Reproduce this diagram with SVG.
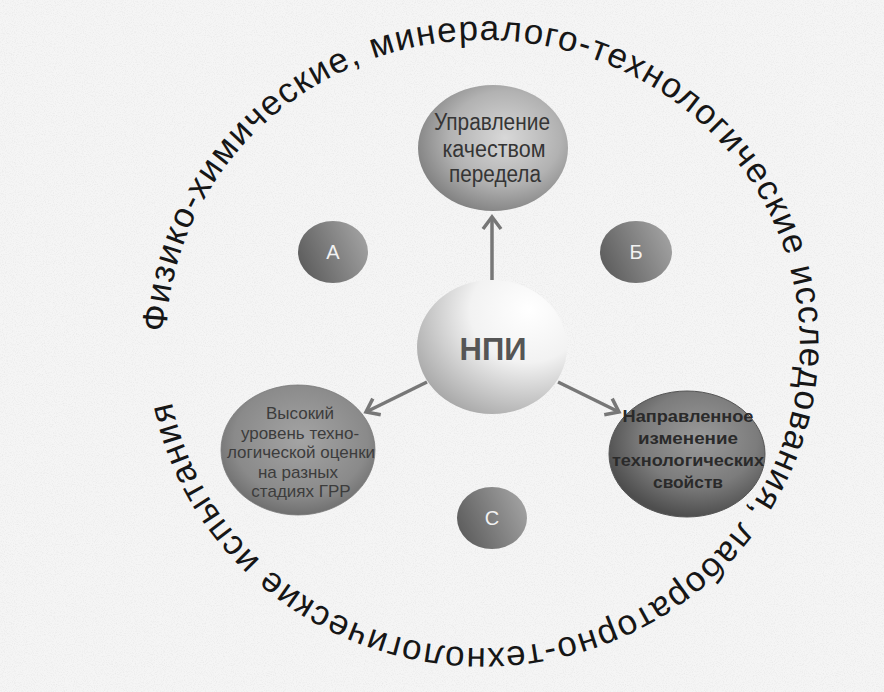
<svg xmlns="http://www.w3.org/2000/svg" xmlns:xlink="http://www.w3.org/1999/xlink" width="884" height="692" viewBox="0 0 884 692">
<style>
.ring{font-family:"Liberation Sans",Arial,sans-serif;font-size:35px;fill:#161616}
.t{font-family:"Liberation Sans",Arial,sans-serif;text-anchor:middle}
.top{font-size:23px;fill:#353535}
.lft{font-size:17px;fill:#3c3c3c}
.rgt{font-size:17px;font-weight:bold;fill:#2a2a2a}
.npi{font-size:31px;font-weight:bold;fill:#555}
.sm{font-size:20px;fill:#f2f2f2}
.arr{stroke:#777;stroke-width:3.5;fill:none}
</style>
<defs>
<filter id="noise" x="0" y="0" width="100%" height="100%">
<feTurbulence type="fractalNoise" baseFrequency="0.9" numOctaves="2" seed="3" result="n"/>
<feColorMatrix in="n" type="matrix" values="0 0 0 0 0.55  0 0 0 0 0.55  0 0 0 0 0.55  0 0 0 -1.6 0.9"/>
</filter>
<radialGradient id="gTop" cx="58%" cy="42%" r="62%">
<stop offset="0" stop-color="#d8d8d8"/><stop offset="0.6" stop-color="#b2b2b2"/><stop offset="1" stop-color="#808080"/>
</radialGradient>
<radialGradient id="gC" cx="72%" cy="25%" r="85%" fx="75%" fy="22%">
<stop offset="0" stop-color="#ffffff"/><stop offset="0.45" stop-color="#f2f2f2"/><stop offset="1" stop-color="#a6a6a6"/>
</radialGradient>
<radialGradient id="gL" cx="52%" cy="42%" r="62%">
<stop offset="0" stop-color="#a4a4a4"/><stop offset="0.7" stop-color="#8a8a8a"/><stop offset="1" stop-color="#686868"/>
</radialGradient>
<radialGradient id="gR" cx="58%" cy="38%" r="62%">
<stop offset="0" stop-color="#9a9a9a"/><stop offset="0.6" stop-color="#7c7c7c"/><stop offset="1" stop-color="#4e4e4e"/>
</radialGradient>
<linearGradient id="gS" x1="0" y1="0.7" x2="1" y2="0.3">
<stop offset="0" stop-color="#5c5c5c"/><stop offset="1" stop-color="#a2a2a2"/>
</linearGradient>
<marker id="chev" markerUnits="userSpaceOnUse" markerWidth="30" markerHeight="30" refX="15" refY="15" orient="auto" viewBox="0 0 30 30">
<path d="M3,6 L15,15 L3,24" fill="none" stroke="#777" stroke-width="3.5" stroke-linejoin="miter"/>
</marker>
<path id="ringPath" d="M166,344 A317,304 0 1,1 800,344 A317,304 0 1,1 166,344"/>
</defs>
<rect width="884" height="692" fill="#f5f5f5"/>
<rect width="884" height="692" filter="url(#noise)" opacity="0.3"/>
<g id="ring-label">
<text class="ring"><textPath xlink:href="#ringPath" href="#ringPath" startOffset="12" textLength="1880" lengthAdjust="spacing">Физико-химические, минералого-технологические исследования, лабораторно-технологические испытания</textPath></text>
</g>
<g id="connectors">
<line class="arr" x1="492" y1="280" x2="492" y2="217" marker-end="url(#chev)"/>
<line class="arr" x1="427" y1="382" x2="366" y2="412" marker-end="url(#chev)"/>
<line class="arr" x1="558" y1="382" x2="619" y2="412" marker-end="url(#chev)"/>
</g>
<g id="node-top">
<ellipse cx="493" cy="148" rx="75" ry="63" fill="url(#gTop)"/>
<text class="t top" x="492" y="130" textLength="116" lengthAdjust="spacingAndGlyphs">Управление</text>
<text class="t top" x="494" y="157" textLength="103" lengthAdjust="spacingAndGlyphs">качеством</text>
<text class="t top" x="495" y="182" textLength="92" lengthAdjust="spacingAndGlyphs">передела</text>
</g>
<g id="node-center">
<ellipse cx="492" cy="347" rx="75" ry="67" fill="url(#gC)"/>
<text class="t npi" x="493" y="360">НПИ</text>
</g>
<g id="node-left">
<ellipse cx="298" cy="450" rx="77" ry="65" fill="url(#gL)" stroke="#777" stroke-width="0.8"/>
<text class="t lft" x="300" y="419">Высокий</text>
<text class="t lft" x="300" y="438.5">уровень  техно-</text>
<text class="t lft" x="301" y="458">логической оценки</text>
<text class="t lft" x="298" y="477.5">на  разных</text>
<text class="t lft" x="301" y="497">стадиях ГРР</text>
</g>
<g id="node-right">
<ellipse cx="687" cy="454" rx="78" ry="63" fill="url(#gR)" stroke="#555" stroke-width="1"/>
<text class="t rgt" x="688" y="422" textLength="131" lengthAdjust="spacingAndGlyphs">Направленное</text>
<text class="t rgt" x="688" y="444" textLength="100" lengthAdjust="spacingAndGlyphs">изменение</text>
<text class="t rgt" x="688" y="466" textLength="152" lengthAdjust="spacingAndGlyphs">технологических</text>
<text class="t rgt" x="688" y="488" textLength="70" lengthAdjust="spacingAndGlyphs">свойств</text>
</g>
<g id="node-a">
<ellipse cx="333" cy="252" rx="35" ry="31" fill="url(#gS)"/>
<text class="t sm" x="333" y="259">А</text>
</g>
<g id="node-b">
<ellipse cx="636" cy="252" rx="36" ry="31" fill="url(#gS)"/>
<text class="t sm" x="636" y="259">Б</text>
</g>
<g id="node-c">
<ellipse cx="492" cy="518" rx="35" ry="31" fill="url(#gS)"/>
<text class="t sm" x="492" y="525">С</text>
</g>
</svg>
